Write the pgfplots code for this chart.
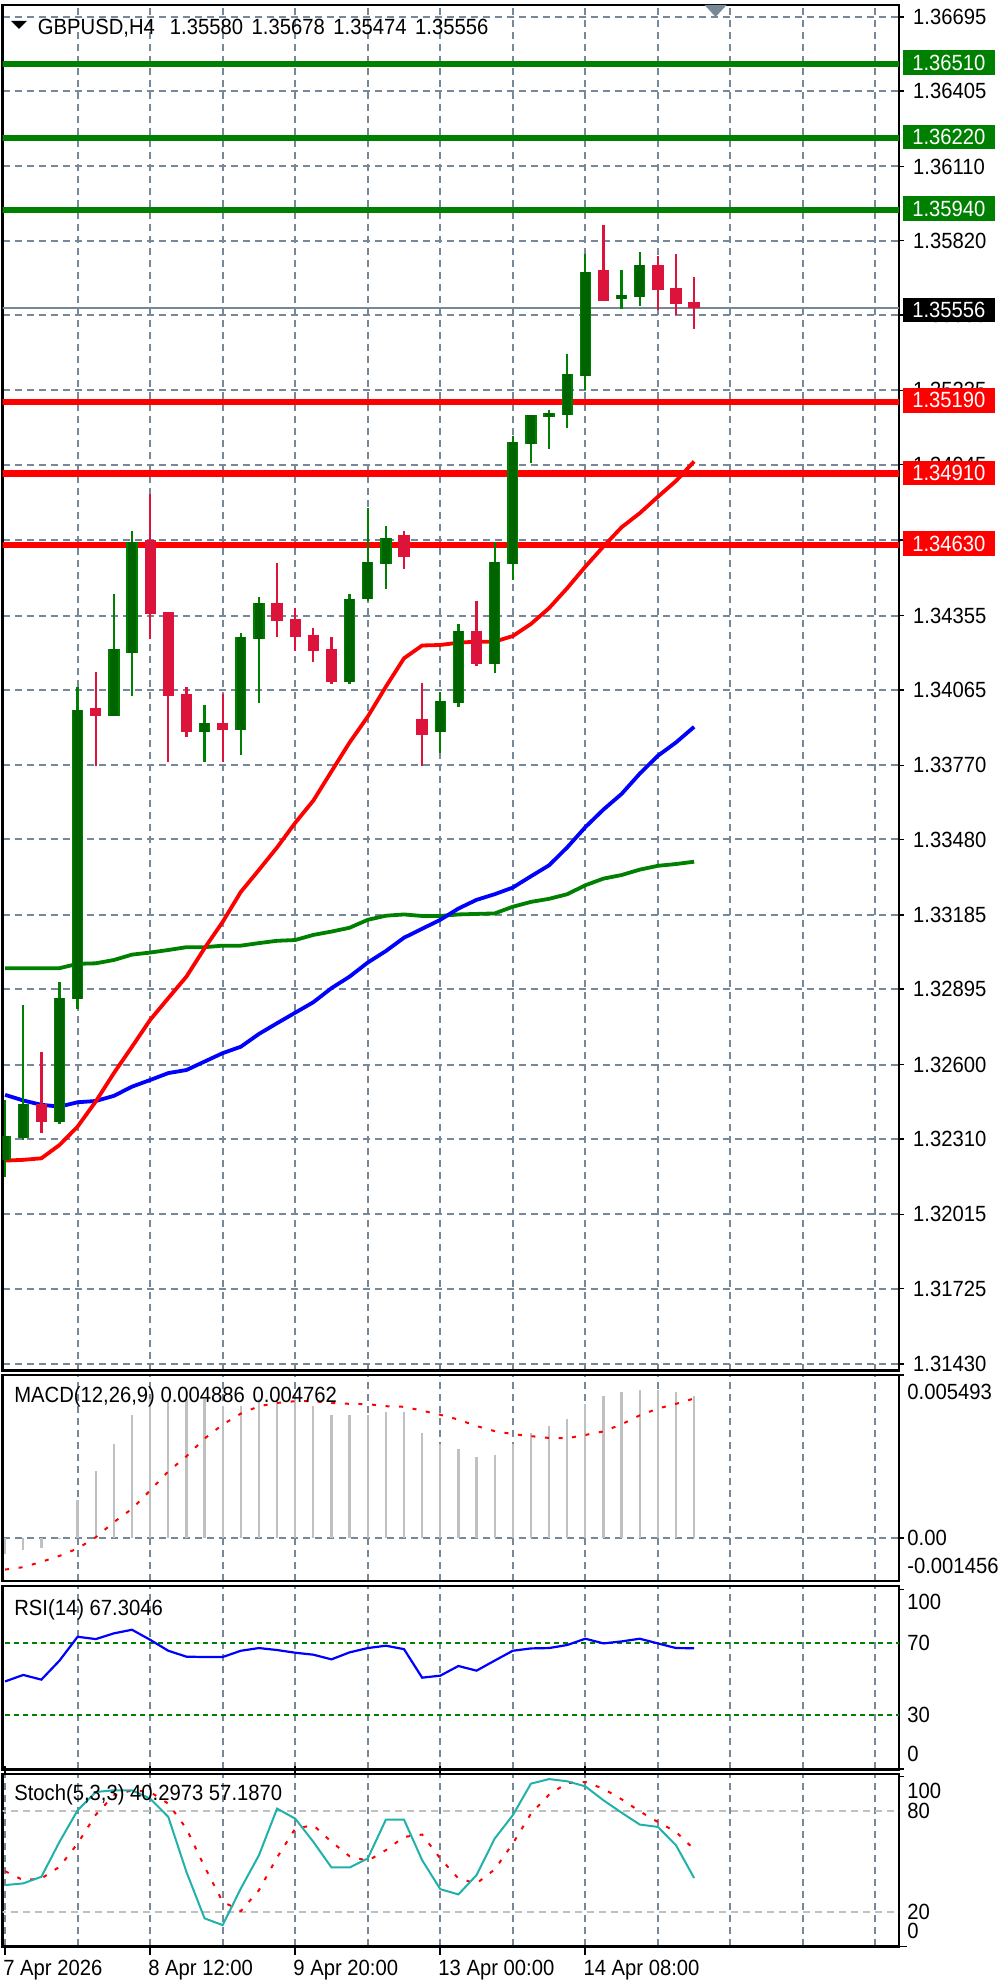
\documentclass[border=0pt]{standalone}
\usepackage{pgfplots}
\usepackage{pgfplotstable}
\usepackage{fontspec}
\pgfplotsset{compat=1.18}
\setmainfont[FakeStretch=0.92]{Liberation Sans}
\newcommand{\cf}{\fontsize{22}{24}\selectfont}
\definecolor{gridc}{HTML}{778899}
\definecolor{cgreen}{HTML}{008000}
\definecolor{cdark}{HTML}{006400}
\definecolor{ccrim}{HTML}{DC143C}
\definecolor{csilver}{HTML}{C0C0C0}
\definecolor{cteal}{HTML}{20B2AA}

\pgfplotstableread{
x high top bot low
0 1.32462 1.32321 1.32228 1.32161
1 1.32833 1.32445 1.32312 1.32306
3 1.32922 1.32860 1.32375 1.32367
4 1.34075 1.33986 1.32856 1.32818
6 1.34438 1.34225 1.33962 1.33962
7 1.34687 1.34642 1.34210 1.34041
11 1.34005 1.33934 1.33899 1.33784
13 1.34288 1.34270 1.33908 1.33810
14 1.34429 1.34403 1.34263 1.34015
19 1.34438 1.34421 1.34095 1.34088
20 1.34775 1.34564 1.34421 1.34413
21 1.34704 1.34660 1.34556 1.34459
24 1.34058 1.34023 1.33899 1.33819
25 1.34322 1.34296 1.34015 1.33997
27 1.34644 1.34564 1.34166 1.34130
28 1.35058 1.35032 1.34556 1.34492
29 1.35138 1.35138 1.35025 1.34953
30 1.35158 1.35148 1.35131 1.35006
31 1.35378 1.35298 1.35140 1.35087
32 1.35768 1.35697 1.35292 1.35237
34 1.35706 1.35608 1.35593 1.35553
35 1.35776 1.35723 1.35601 1.35565
}\upcandles
\pgfplotstableread{
x high top bot low
2 1.32649 1.32445 1.32375 1.32332
5 1.34136 1.33995 1.33962 1.33769
8 1.34829 1.34651 1.34360 1.34263
9 1.34368 1.34368 1.34041 1.33784
10 1.34075 1.34049 1.33899 1.33882
12 1.34049 1.33934 1.33908 1.33784
15 1.34562 1.34403 1.34334 1.34272
16 1.34386 1.34342 1.34272 1.34218
17 1.34306 1.34279 1.34218 1.34175
18 1.34270 1.34226 1.34095 1.34088
22 1.34687 1.34669 1.34582 1.34537
23 1.34093 1.33951 1.33890 1.33769
26 1.34411 1.34296 1.34165 1.34156
33 1.35883 1.35706 1.35584 1.35584
36 1.35761 1.35723 1.35628 1.35548
37 1.35767 1.35634 1.35574 1.35529
38 1.35678 1.35580 1.35556 1.35474
}\downcandles
\pgfplotstableread{
x red blue green
0 1.32225 1.32482 1.32977
1 1.32228 1.32460 1.32977
2 1.32234 1.32443 1.32977
3 1.32286 1.32436 1.32977
4 1.32358 1.32453 1.32994
5 1.32456 1.32458 1.32996
6 1.32567 1.32478 1.33009
7 1.32670 1.32514 1.33030
8 1.32775 1.32540 1.33038
9 1.32860 1.32567 1.33048
10 1.32944 1.32579 1.33059
11 1.33055 1.32612 1.33059
12 1.33158 1.32645 1.33065
13 1.33275 1.32670 1.33065
14 1.33361 1.32720 1.33075
15 1.33449 1.32762 1.33084
16 1.33545 1.32803 1.33087
17 1.33632 1.32844 1.33107
18 1.33746 1.32899 1.33120
19 1.33859 1.32944 1.33135
20 1.33960 1.32999 1.33166
21 1.34077 1.33044 1.33182
22 1.34188 1.33096 1.33187
23 1.34238 1.33131 1.33181
24 1.34240 1.33166 1.33181
25 1.34249 1.33210 1.33187
26 1.34253 1.33244 1.33189
27 1.34253 1.33266 1.33191
28 1.34275 1.33292 1.33217
29 1.34322 1.33336 1.33236
30 1.34384 1.33379 1.33248
31 1.34462 1.33449 1.33266
32 1.34546 1.33528 1.33301
33 1.34625 1.33597 1.33327
34 1.34700 1.33658 1.33341
35 1.34755 1.33737 1.33362
36 1.34819 1.33807 1.33377
37 1.34881 1.33859 1.33384
38 1.34957 1.33920 1.33393
}\mas
\pgfplotstableread{
x hist signal
0 -0.00056 -0.00107
1 -0.00042 -0.00099
2 -0.00034 -0.00081
3 -0.00001 -0.00061
4 0.00126 -0.00036
5 0.00225 0.00002
6 0.00317 0.00053
7 0.00416 0.00098
8 0.00467 0.00160
9 0.00467 0.00224
10 0.00467 0.00275
11 0.00467 0.00335
12 0.00444 0.00382
13 0.00446 0.00419
14 0.00470 0.00444
15 0.00467 0.00455
16 0.00467 0.00461
17 0.00446 0.00461
18 0.00416 0.00455
19 0.00416 0.00452
20 0.00416 0.00451
21 0.00424 0.00444
22 0.00424 0.00442
23 0.00354 0.00429
24 0.00317 0.00415
25 0.00301 0.00399
26 0.00271 0.00377
27 0.00278 0.00360
28 0.00317 0.00350
29 0.00354 0.00343
30 0.00378 0.00337
31 0.00400 0.00336
32 0.00453 0.00347
33 0.00477 0.00359
34 0.00492 0.00383
35 0.00500 0.00413
36 0.00500 0.00436
37 0.00492 0.00452
38 0.00477 0.00470
}\macd
\pgfplotstableread{
x rsi k d
0 48.8 36.1 44.3
1 52.4 37.1 39.0
2 49.8 41.0 40.0
3 60.4 61.6 46.9
4 73.7 80.2 60.6
5 72.4 91.0 77.6
6 75.6 92.0 89.0
7 77.6 92.0 92.0
8 72.0 87.1 91.0
9 65.9 76.3 84.1
10 62.6 43.9 69.4
11 62.4 16.5 46.9
12 62.4 12.5 26.3
13 65.9 34.1 20.8
14 67.4 53.7 33.1
15 66.3 81.2 52.4
16 64.8 75.3 69.4
17 63.7 61.6 71.4
18 61.1 46.5 61.6
19 65.0 46.5 53.1
20 67.4 51.8 50.4
21 68.7 74.7 56.7
22 66.8 74.7 64.5
23 50.9 50.8 65.9
24 52.0 33.7 51.8
25 57.4 30.6 40.0
26 54.8 42.0 37.1
27 60.4 63.5 45.3
28 65.9 77.3 60.6
29 67.2 95.9 78.2
30 67.4 98.6 89.4
31 69.1 97.3 96.3
32 72.6 94.3 96.9
33 70.0 86.1 92.9
34 71.1 78.8 86.7
35 72.6 71.8 79.6
36 70.0 70.4 73.3
37 67.4 59.6 67.5
38 67.3 40.3 57.2
}\osc

\tikzset{
  tl/.style={anchor=west,inner sep=0pt,font=\cf},
  tag/.style={fill=#1,text=white,minimum height=24.5pt,minimum width=92.5pt,inner sep=0pt,font=\cf},
  dots/.style={color=red,line width=2pt,dash pattern=on 4pt off 9.6pt},
}
\pgfplotsset{
  panel/.style={
    scale only axis, width=896.4pt, clip mode=individual,
    xmin=-0.138, xmax=49.30,
    font=\cf,
    axis line style={line width=2.5pt,black},
    ytick pos=right, yticklabel pos=right,
    tick align=outside,
    major tick length=5pt,
    ytick style={black,line width=1.5pt},
    yticklabel style={anchor=west,inner sep=0pt,xshift=9pt,font=\cf},
    grid=major,
    major grid style={draw=gridc,line width=2pt,dash pattern=on 7pt off 5pt},
    minor grid style={draw=gridc,line width=2pt,dash pattern=on 7pt off 5pt},
  },
  vt/.style={xtick={4,8,...,48},xticklabels={},xtick style={draw=none}},
  noylab/.style={yticklabels={}},
  wick/.style={draw=none,mark=none,error bars/.cd,y dir=minus,y explicit,error mark=none,error bar style={line width=2.3pt,#1}},
  body/.style 2 args={draw=none,mark=none,error bars/.cd,y dir=minus,y explicit,error mark=none,error bar style={line width=#2,#1}},
}

\begin{document}
\begin{tikzpicture}
\path[use as bounding box] (0pt,0pt) rectangle (1000pt,1982pt);

% main price panel
\begin{axis}[panel,vt,name=main,at={(2.6pt,611.3pt)},anchor=south west,height=1365.7pt,
  ymin=1.31404,ymax=1.36741,
  ytick={1.36695,1.36405,1.36110,1.35820,1.35530,1.35235,1.34945,1.34650,1.34355,1.34065,1.33770,1.33480,1.33185,1.32895,1.32600,1.32310,1.32015,1.31725,1.31430},
  yticklabels={1.36695,1.36405,1.36110,1.35820,1.35530,1.35235,1.34945,1.34650,1.34355,1.34065,1.33770,1.33480,1.33185,1.32895,1.32600,1.32310,1.32015,1.31725,1.31430},
  after end axis/.code={
    \node[tag=cgreen,yshift=1.5pt] at (axis cs:52.05,1.3651) {1.36510};
    \node[tag=cgreen,yshift=1.5pt] at (axis cs:52.05,1.3622) {1.36220};
    \node[tag=cgreen,yshift=1.5pt] at (axis cs:52.05,1.3594) {1.35940};
    \node[tag=black,yshift=-2pt] at (axis cs:52.05,1.35556) {1.35556};
    \node[tag=red,yshift=1.5pt] at (axis cs:52.05,1.3519) {1.35190};
    \node[tag=red,yshift=0.5pt] at (axis cs:52.05,1.3491) {1.34910};
    \node[tag=red,yshift=1.5pt] at (axis cs:52.05,1.3463) {1.34630};
    \node[tl,yshift=-2pt] at (axis cs:1.8,1.36658) {GBPUSD,H4\hspace{15pt}1.35580\hspace{3pt} 1.35678\hspace{3pt} 1.35474\hspace{3pt} 1.35556};
  }]
\addplot[gridc,line width=2.5pt] coordinates {(-1,1.35556)(50,1.35556)};
\addplot[cgreen,line width=6pt] coordinates {(-1,1.3651)(50,1.3651)};
\addplot[cgreen,line width=6pt] coordinates {(-1,1.3622)(50,1.3622)};
\addplot[cgreen,line width=6pt] coordinates {(-1,1.3594)(50,1.3594)};
\addplot[red,line width=6.5pt] coordinates {(-1,1.3519)(50,1.3519)};
\addplot[red,line width=6.5pt] coordinates {(-1,1.3491)(50,1.3491)};
\addplot[red,line width=6.5pt] coordinates {(-1,1.3463)(50,1.3463)};
\addplot[cgreen,line width=3.8pt] table[x=x,y=green] {\mas};
\addplot[blue,line width=3.8pt] table[x=x,y=blue] {\mas};
\addplot[red,line width=3.8pt] table[x=x,y=red] {\mas};
\addplot[wick=cgreen] table[x=x,y=high,y error expr=\thisrow{high}-\thisrow{low}] {\upcandles};
\addplot[body={cgreen}{11.3pt}] table[x=x,y=top,y error expr=\thisrow{top}-\thisrow{bot}] {\upcandles};
\addplot[body={cdark}{8.5pt}] table[x=x,y=top,y error expr=\thisrow{top}-\thisrow{bot}] {\upcandles};
\addplot[wick=ccrim] table[x=x,y=high,y error expr=\thisrow{high}-\thisrow{low}] {\downcandles};
\addplot[body={ccrim}{11.3pt}] table[x=x,y=top,y error expr=\thisrow{top}-\thisrow{bot}] {\downcandles};
\end{axis}

% MACD
\begin{axis}[panel,vt,at={(2.6pt,401pt)},anchor=south west,height=206pt,
  ymin=-0.001456,ymax=0.005493,scaled y ticks=false,
  ytick={0},extra y ticks={0.005493},extra y tick style={grid=none},extra y tick labels={},noylab,
  after end axis/.code={
    \node[tl,yshift=-4pt] at (axis cs:0.5,0.00488) {MACD(12,26,9) 0.004886\hspace{2pt} 0.004762};
    \node[tl] at (axis cs:49.75,0.00493) {0.005493};
    \node[tl] at (axis cs:49.75,0) {0.00};
    \node[tl] at (axis cs:49.75,-0.000937) {-0.001456};
  }]
\addplot[ycomb,csilver,line width=2.3pt,mark=none] table[x=x,y=hist] {\macd};
\addplot[dots] table[x=x,y=signal] {\macd};
\end{axis}

% RSI
\begin{axis}[panel,vt,at={(2.6pt,212.5pt)},anchor=south west,height=183.5pt,
  ymin=-0.3,ymax=102,
  ytick={0},extra y ticks={100},extra y tick style={grid=none},extra y tick labels={},noylab,
  after end axis/.code={
    \node[tl,yshift=-4pt] at (axis cs:0.5,90.8) {RSI(14) 67.3046};
    \node[tl] at (axis cs:49.75,93) {100};
    \node[tl] at (axis cs:49.75,70) {70};
    \node[tl] at (axis cs:49.75,30) {30};
    \node[tl] at (axis cs:49.75,8.4) {0};
  }]
\addplot[cgreen,line width=2.2pt,dash pattern=on 5pt off 4pt] coordinates {(-1,70)(50,70)};
\addplot[cgreen,line width=2.2pt,dash pattern=on 5pt off 4pt] coordinates {(-1,30)(50,30)};
\addplot[blue,line width=2.2pt] table[x=x,y=rsi] {\osc};
\end{axis}

% Stochastic
\begin{axis}[panel,at={(2.6pt,35.5pt)},anchor=south west,height=172.5pt,
  ymin=-0.1,ymax=101.6,
  xtick={0,8,16,24,32},minor xtick={4,12,20,28,36,40,44,48},
  xticklabels={7 Apr 2026,8 Apr 12:00,9 Apr 20:00,13 Apr 00:00,14 Apr 08:00},
  xticklabel style={anchor=north west,inner sep=0pt,xshift=-2pt,yshift=-5pt,font=\cf},
  grid=both,minor tick length=0pt,
  xtick style={black,line width=2pt},
  major tick length=8pt,
  ytick={0},extra y ticks={100},extra y tick style={grid=none,major tick length=5pt},extra y tick labels={},noylab,
  after end axis/.code={
    \node[tl,yshift=-5pt] at (axis cs:0.5,92.3) {Stoch(5,3,3) 40.2973 57.1870};
    \node[tl] at (axis cs:49.75,91.9) {100};
    \node[tl] at (axis cs:49.75,80) {80};
    \node[tl] at (axis cs:49.75,20) {20};
    \node[tl] at (axis cs:49.75,9.1) {0};
  }]
\addplot[csilver,line width=2pt,dash pattern=on 7pt off 5pt] coordinates {(-1,80)(50,80)};
\addplot[csilver,line width=2pt,dash pattern=on 7pt off 5pt] coordinates {(-1,20)(50,20)};
\addplot[dots] table[x=x,y=d] {\osc};
\addplot[cteal,line width=2pt] table[x=x,y=k] {\osc};
\end{axis}

% chart-window markers
\fill[gridc] (704.6pt,1977pt) -- (726.6pt,1977pt) -- (715.6pt,1965pt) -- cycle;
\fill[black] (11pt,1961pt) -- (27pt,1961pt) -- (19pt,1953pt) -- cycle;
\end{tikzpicture}
\end{document}
